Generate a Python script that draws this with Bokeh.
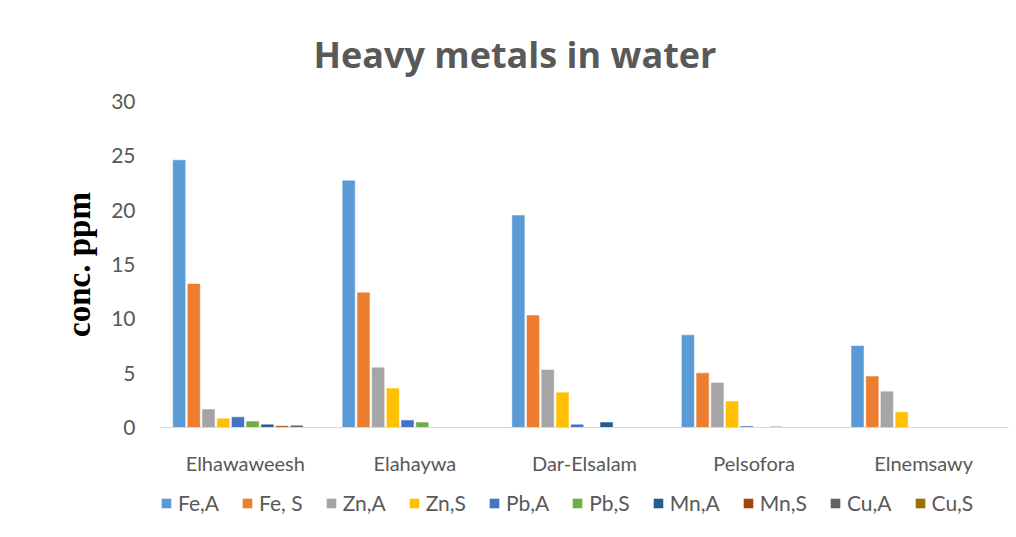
from bokeh.plotting import figure
from bokeh.models import ColumnDataSource, Legend, LegendItem, Range1d, FactorRange
from bokeh.layouts import column
from bokeh.transform import dodge
from bokeh.embed import file_html
from bokeh.resources import INLINE

sites = ["Elhawaweesh", "Elahaywa", "Dar-Elsalam", "Pelsofora", "Elnemsawy"]
series_names = ["Fe,A", "Fe, S", "Zn,A", "Zn,S", "Pb,A", "Pb,S", "Mn,A", "Mn,S", "Cu,A", "Cu,S"]
fe_a = [24.6, 22.7, 19.5, 8.5, 7.5]
fe_s = [13.2, 12.4, 10.3, 5.0, 4.7]
zn_a = [1.65, 5.5, 5.3, 4.1, 3.3]
zn_s = [0.8, 3.6, 3.2, 2.4, 1.4]
pb_a = [0.95, 0.65, 0.25, 0.1, 0.0]
pb_s = [0.55, 0.45, 0.0, 0.0, 0.0]
mn_a = [0.25, 0.0, 0.45, 0.05, 0.0]
mn_s = [0.12, 0.0, 0.0, 0.0, 0.0]
cu_a = [0.15, 0.0, 0.0, 0.0, 0.0]
cu_s = [0.0, 0.0, 0.0, 0.0, 0.0]
all_series = [fe_a, fe_s, zn_a, zn_s, pb_a, pb_s, mn_a, mn_s, cu_a, cu_s]
colors = ["#5B9BD5", "#ED7D31", "#A5A5A5", "#FFC000", "#4472C4",
          "#70AD47", "#255E91", "#9E480E", "#636363", "#997300"]
y_ticks = [0, 5, 10, 15, 20, 25, 30]

p = figure(width=1016, height=480, x_range=FactorRange(*sites), y_range=Range1d(0, 30),
           output_backend="svg", toolbar_location=None,
           title="Heavy metals in water",
           min_border_left=160, min_border_right=8, min_border_top=101, min_border_bottom=53)
p.outline_line_color = None
p.xgrid.grid_line_color = None
p.ygrid.grid_line_color = None
p.x_range.range_padding = 0

p.title.align = "left"
p.title.offset = 153
p.title.text_font = "Open Sans"
p.title.text_font_style = "bold"
p.title.text_font_size = "36px"
p.title.text_color = "#595959"
p.title.standoff = 46

step = 0.0867
width = 0.071
for i, (name, vals, col) in enumerate(zip(series_names, all_series, colors)):
    src = ColumnDataSource(dict(x=sites, top=vals))
    p.vbar(x=dodge("x", (i - 4.5) * step, range=p.x_range), top="top", width=width,
           source=src, fill_color=col, line_color=col, line_width=0.5)

p.yaxis.ticker = y_ticks
p.yaxis.axis_line_color = None
p.yaxis.major_tick_line_color = None
p.yaxis.minor_tick_line_color = None
p.yaxis.major_label_text_font = "Lato"
p.yaxis.major_label_text_font_size = "21px"
p.yaxis.major_label_text_color = "#595959"
p.yaxis.major_label_standoff = 19
p.yaxis.axis_label = "conc. ppm"
p.yaxis.axis_label_text_font = "Liberation Serif"
p.yaxis.axis_label_text_font_style = "bold"
p.yaxis.axis_label_text_font_size = "33px"
p.yaxis.axis_label_text_color = "black"
p.yaxis.axis_label_standoff = 11

p.xaxis.axis_line_color = "#D9D9D9"
p.xaxis.major_tick_line_color = None
p.xaxis.minor_tick_line_color = None
p.xaxis.major_label_text_font = "Lato"
p.xaxis.major_label_text_font_size = "20px"
p.xaxis.major_label_text_color = "#595959"
p.xaxis.major_label_standoff = 17

# legend strip below the chart (swatches taken from the same colour list)
lg = figure(width=1016, height=57, x_range=Range1d(0, 1), y_range=Range1d(0, 1),
            output_backend="svg", toolbar_location=None, min_border=0)
lg.axis.visible = False
lg.grid.visible = False
lg.outline_line_color = None
items = []
for name, col in zip(series_names, colors):
    r = lg.vbar(x=[0.5], top=[0], bottom=[0], width=0.1, fill_color=col, line_color=None)
    items.append(LegendItem(label=name, renderers=[r]))
legend = Legend(items=items, orientation="horizontal", location=(0, 22),
                label_text_font="Lato", label_text_font_size="21px", label_text_color="#595959",
                glyph_width=12, glyph_height=12, label_standoff=6, spacing=22,
                border_line_color=None, background_fill_alpha=0, padding=0, margin=0)
lg.add_layout(legend, "center")

layout = column(p, lg, spacing=0)
open("out.html", "w").write(file_html(layout, INLINE))
